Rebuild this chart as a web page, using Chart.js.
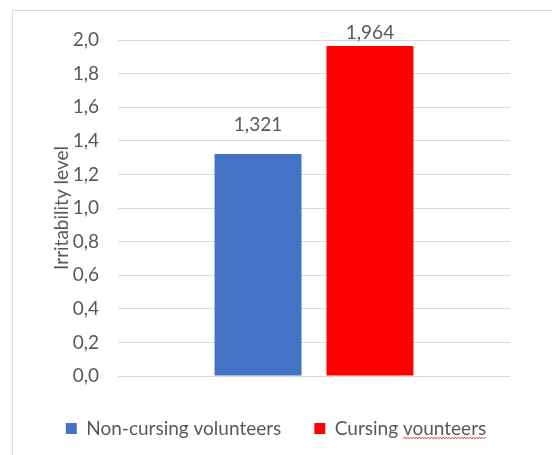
<!DOCTYPE html>
<html>
<head>
<meta charset="utf-8">
<script src="https://cdn.jsdelivr.net/npm/chart.js@4"></script>
<style>
	html, body { margin: 0; padding: 0; background: #fff; overflow: hidden; }
	#wrap { width: 552px; height: 455px; }
</style>
</head>
<body>
<div id="wrap"><canvas id="chart" width="552" height="455"></canvas></div>
<script>
"use strict";

// groups and their mean irritability
const groups = ["Non-cursing volunteers", "Cursing vounteers"];
const irritability = [1.321, 1.964];
const barColors = ["#4472C4", "#FF0000"];
const yTickLabels = ["0,0", "0,2", "0,4", "0,6", "0,8", "1,0", "1,2", "1,4", "1,6", "1,8", "2,0"];

const textColor = "#595959";
const font = { family: "Lato", size: 19 };

// light frame round the whole chart
const frame = {
	id: "frame",
	beforeDraw(chart) {
		const ctx = chart.ctx;
		ctx.save();
		ctx.strokeStyle = "#d9d9d9";
		ctx.lineWidth = 1;
		ctx.strokeRect(12.5, 10.5, 620, 520);
		ctx.restore();
	}
};

// value above each bar, comma as decimal mark
const valueLabels = {
	id: "valueLabels",
	afterDatasetsDraw(chart, args, opts) {
		const ctx = chart.ctx;
		ctx.save();
		ctx.font = font.size + "px " + font.family;
		ctx.fillStyle = textColor;
		ctx.textAlign = "center";
		ctx.textBaseline = "middle";
		chart.data.datasets.forEach(function (ds, i) {
			const bar = chart.getDatasetMeta(i).data[0];
			const txt = ds.data[0].toFixed(3).replace(".", ",");
			ctx.fillText(txt, bar.x, bar.y - opts.gaps[i]);
		});
		ctx.restore();
	}
};

// red wavy spell-check line under the misspelt word in the legend
const squiggle = {
	id: "squiggle",
	afterDraw(chart) {
		const legend = chart.legend;
		const box = legend.legendHitBoxes[1];
		if (!box) return;
		const ctx = chart.ctx;
		ctx.save();
		ctx.font = font.size + "px " + font.family;
		const textX = box.left + 11 + font.size / 2;
		const x0 = textX + ctx.measureText("Cursing ").width;
		const x1 = textX + ctx.measureText("Cursing vounteers").width;
		const y = box.top + box.height / 2 + 10;
		ctx.strokeStyle = "#e03030";
		ctx.lineWidth = 1;
		ctx.beginPath();
		ctx.moveTo(x0, y);
		let up = true;
		for (let x = x0 + 1.5; x <= x1; x += 1.5) {
			ctx.lineTo(x, up ? y - 1 : y);
			up = !up;
		}
		ctx.stroke();
		ctx.restore();
	}
};

let datasets = [];
for (let i = 0; i < groups.length; i++) {
	datasets.push({
		label: groups[i],
		data: [irritability[i]],
		backgroundColor: barColors[i],
		borderWidth: 0,
		categoryPercentage: 0.571,
		barPercentage: 0.777
	});
}

let chart = new Chart(document.getElementById("chart"), {
	type: "bar",
	data: { labels: [""], datasets: datasets },
	plugins: [frame, valueLabels, squiggle],
	options: {
		responsive: false,
		animation: false,
		layout: { padding: { left: 0, right: 0, top: 40, bottom: 7 } },
		plugins: {
			tooltip: { enabled: false },
			valueLabels: { gaps: [29, 13] },
			legend: {
				position: "bottom",
				labels: {
					boxWidth: 11,
					boxHeight: 11,
					padding: 33,
					color: textColor,
					font: font
				}
			}
		},
		scales: {
			x: {
				grid: { display: false },
				border: { display: false },
				ticks: { display: false },
				afterFit(scale) { scale.height = 10; }
			},
			y: {
				min: 0,
				max: 2,
				border: { display: false },
				grid: { color: "#d9d9d9", lineWidth: 1, drawTicks: false },
				ticks: {
					stepSize: 0.2,
					padding: 19,
					color: textColor,
					font: font,
					callback: function (v, idx) { return yTickLabels[idx]; }
				},
				title: {
					display: true,
					text: "Irritability level",
					color: textColor,
					font: font,
					padding: { top: 50, bottom: 0 }
				},
				afterFit(scale) { scale.width = 118; }
			},
			// empty strip on the right side of the plot
			yRight: {
				position: "right",
				min: 0,
				max: 2,
				border: { display: false },
				grid: { display: false },
				ticks: { display: false },
				afterFit(scale) { scale.width = 42; }
			}
		}
	}
});
</script>
</body>
</html>
